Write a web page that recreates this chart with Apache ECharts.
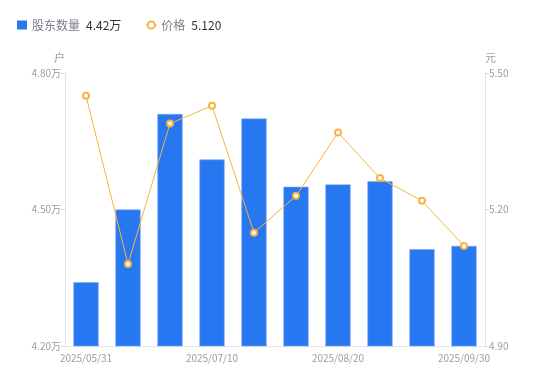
<!DOCTYPE html>
<html><head><meta charset="utf-8">
<script src="https://cdn.jsdelivr.net/npm/echarts@6/dist/echarts.min.js"></script>
<style>html,body{margin:0;padding:0;background:#fff}#c{width:550px;height:381px}</style>
</head><body><div id="c"></div>
<script>
const categories = ['2025/05/31','2025/06/13','2025/06/27','2025/07/10','2025/07/24','2025/08/07','2025/08/20','2025/09/03','2025/09/17','2025/09/30'];
const holders = [4.34, 4.50, 4.71, 4.61, 4.70, 4.55, 4.555, 4.562, 4.413, 4.42];
const prices = [5.450, 5.080, 5.389, 5.428, 5.149, 5.230, 5.369, 5.269, 5.219, 5.120];
const leftTicks = [4.2, 4.5, 4.8];
const rightTicks = [4.9, 5.2, 5.5];

const chart = echarts.init(document.getElementById('c'));
const lastH = holders[holders.length-1].toFixed(2) + '万';
const lastP = prices[prices.length-1].toFixed(3);
chart.setOption({
  animation: false,
  textStyle: {fontFamily: '"Noto Sans CJK SC", "Noto Sans", sans-serif'},
  legend: {
    left: 12, top: 14, itemWidth: 10, itemHeight: 9, itemGap: 24,
    data: [
      {name: '股东数量', icon: 'rect', itemStyle: {borderWidth: 0}},
      {name: '价格'}
    ],
    formatter: function (n) {
      return n === '股东数量' ? '{n|股东数量}{v|' + lastH + '}' : '{n|价格}{v|' + lastP + '}';
    },
    textStyle: {
      rich: {
        n: {color: '#7b7e88', fontSize: 12, padding: [0, 6, 0, 0]},
        v: {color: '#333333', fontSize: 12}
      }
    }
  },
  grid: {left: 65, right: 65, top: 73, bottom: 35},
  xAxis: {
    type: 'category', data: categories,
    axisLine: {lineStyle: {color: '#e3e4e8'}},
    axisTick: {show: false},
    axisLabel: {interval: 2, color: '#9a9ca6', fontSize: 10, margin: 7}
  },
  yAxis: [{
    type: 'value', min: 4.2, max: 4.8, interval: 0.3, name: '户',
    nameGap: 10,
    nameTextStyle: {color: '#9a9ca6', fontSize: 11, align: 'right'},
    axisLine: {show: true, lineStyle: {color: '#e3e4e8'}},
    axisTick: {show: true, length: 4, lineStyle: {color: '#d8d9de'}},
    splitLine: {show: false},
    axisLabel: {color: '#9a9ca6', fontSize: 10, margin: 4, customValues: leftTicks,
      formatter: v => v.toFixed(2) + '万'}
  }, {
    type: 'value', min: 4.9, max: 5.5, name: '元',
    nameGap: 10,
    nameTextStyle: {color: '#9a9ca6', fontSize: 11, align: 'left'},
    axisLine: {show: true, lineStyle: {color: '#e3e4e8'}},
    axisTick: {show: true, length: 4, customValues: rightTicks, lineStyle: {color: '#d8d9de'}},
    splitLine: {show: false},
    axisLabel: {color: '#9a9ca6', fontSize: 10, margin: 4, customValues: rightTicks,
      formatter: v => v.toFixed(2)}
  }],
  series: [{
    name: '股东数量', type: 'bar', data: holders, barWidth: '60%', yAxisIndex: 0,
    itemStyle: {color: '#2777f1', borderColor: '#7aa9f6', borderWidth: 0.6}
  }, {
    name: '价格', type: 'line', data: prices, yAxisIndex: 1,
    symbol: 'circle', symbolSize: 6,
    lineStyle: {color: '#f7b342', width: 1},
    itemStyle: {color: '#fff', borderColor: '#f7b342', borderWidth: 2}
  }]
});
</script></body></html>
